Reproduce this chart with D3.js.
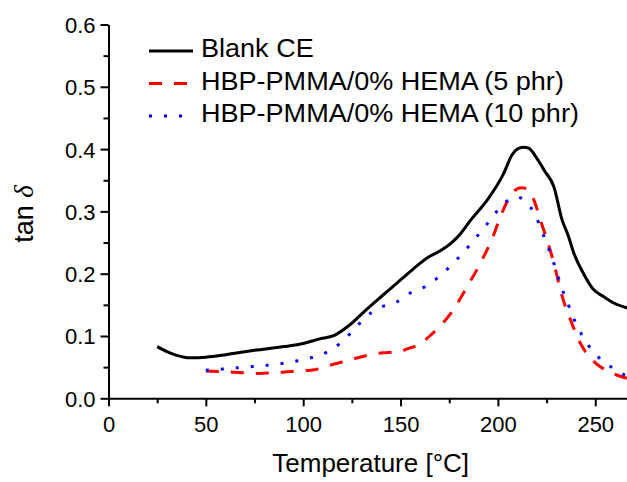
<!DOCTYPE html>
<html>
<head>
<meta charset="utf-8">
<script src="https://d3js.org/d3.v7.min.js"></script>
<style>
body { margin: 0; background: #fff; }
svg text { font-family: "Liberation Sans", Arial, sans-serif; fill: #000; }
</style>
</head>
<body>
<div id="chart"></div>
<script>
(function() {
"use strict"

var W = 627, H = 482;

// tick values
var xMajor = [0, 50, 100, 150, 200, 250];
var xMinor = [25, 75, 125, 175, 225];
var yMajor = [0.0, 0.1, 0.2, 0.3, 0.4, 0.5, 0.6];
var yMinor = [0.05, 0.15, 0.25, 0.35, 0.45, 0.55];

// Blank CE (black solid)
var blankT = [25, 30, 35, 42, 50, 58, 64, 75, 90, 100, 108, 116, 124, 133, 140, 150, 157, 164, 170, 176, 181, 186, 194.5, 203, 207.3, 210, 213, 216, 220, 224, 228.7, 233, 236, 239, 244, 249, 254.4, 259.5, 266.4, 270];
var blankV = [0.083, 0.075, 0.069, 0.065, 0.066, 0.069, 0.072, 0.077, 0.083, 0.088, 0.095, 0.101, 0.118, 0.144, 0.163, 0.190, 0.209, 0.226, 0.236, 0.249, 0.265, 0.286, 0.318, 0.361, 0.391, 0.400, 0.403, 0.401, 0.385, 0.365, 0.340, 0.286, 0.262, 0.233, 0.200, 0.175, 0.163, 0.153, 0.145, 0.142];

// HBP-PMMA/0% HEMA (5 phr) (red dashed)
var p5T = [50, 57, 64, 70, 77, 85, 90, 98, 104, 110, 116, 122, 128, 133, 141, 146, 150, 153, 160, 165, 170, 176, 184, 191, 197, 202, 208, 212, 215, 218, 221, 223, 225.3, 229.6, 232.1, 234.7, 237.3, 240.7, 243.3, 246, 249.3, 253, 257, 261.3, 266.4, 270];
var p5V = [0.044, 0.043, 0.042, 0.041, 0.040, 0.041, 0.042, 0.044, 0.045, 0.049, 0.055, 0.060, 0.065, 0.069, 0.073, 0.074, 0.075, 0.079, 0.087, 0.100, 0.115, 0.137, 0.178, 0.217, 0.256, 0.297, 0.332, 0.338, 0.336, 0.322, 0.295, 0.275, 0.254, 0.206, 0.174, 0.147, 0.126, 0.099, 0.083, 0.070, 0.059, 0.050, 0.043, 0.037, 0.032, 0.029];

// HBP-PMMA/0% HEMA (10 phr) (blue dotted)
var p10T = [50, 58.4, 66, 73.8, 81.5, 89.2, 96.6, 104, 111.5, 119.2, 126, 132.3, 139.7, 147.7, 155, 162.5, 169.6, 176.2, 182.5, 188.5, 194, 200, 206.8, 210, 214.2, 219.3, 222.4, 225.3, 228, 230.4, 232.7, 235.6, 238.5, 241.9, 246.2, 252.3, 259.9, 265.5, 270];
var p10V = [0.045, 0.047, 0.049, 0.051, 0.053, 0.056, 0.060, 0.065, 0.073, 0.089, 0.110, 0.131, 0.146, 0.154, 0.169, 0.179, 0.195, 0.214, 0.235, 0.257, 0.278, 0.302, 0.321, 0.323, 0.316, 0.293, 0.270, 0.246, 0.224, 0.200, 0.178, 0.155, 0.131, 0.109, 0.086, 0.064, 0.047, 0.037, 0.032];

var seriesNames = ["Blank CE", "HBP-PMMA/0% HEMA\u2009(5 phr)", "HBP-PMMA/0% HEMA\u2009(10 phr)"];
var seriesColors = ["#000000", "#ff0000", "#0000ff"];
var seriesDash = [null, "13,12", "3,12"];

var zip = function(ts, vs) {
    return ts.map(function(t, i) { return {t: t, v: vs[i]}; });
};
var series = [zip(blankT, blankV), zip(p5T, p5V), zip(p10T, p10V)];

var margin = {left: 108.5, top: 24.5};
var pxPerUnit = 1.947;

var svg = d3.select("#chart").append("svg")
    .attr("width", W)
    .attr("height", H);

var x = d3.scaleLinear()
    .domain([0, 270])
    .range([margin.left, margin.left + 270 * pxPerUnit]);
var y = d3.scaleLinear()
    .domain([0, 0.6])
    .range([398.3, margin.top]);

//x axis, major + minor ticks
var gx = svg.append("g")
    .attr("transform", "translate(0," + y(0) + ")")
    .call(d3.axisBottom(x).tickValues(xMajor).tickSize(8).tickSizeOuter(0).tickPadding(6).tickFormat(d3.format("d")));
svg.append("g")
    .attr("transform", "translate(0," + y(0) + ")")
    .call(d3.axisBottom(x).tickValues(xMinor).tickSize(5).tickSizeOuter(0).tickFormat(""))
    .select(".domain").remove();

//y axis
var gy = svg.append("g")
    .attr("transform", "translate(" + x(0) + ",0)")
    .call(d3.axisLeft(y).tickValues(yMajor).tickSize(8).tickSizeOuter(0).tickPadding(5).tickFormat(d3.format(".1f")));
svg.append("g")
    .attr("transform", "translate(" + x(0) + ",0)")
    .call(d3.axisLeft(y).tickValues(yMinor).tickSize(5).tickSizeOuter(0).tickFormat(""))
    .select(".domain").remove();

svg.selectAll(".domain, .tick line")
    .attr("stroke", "#000")
    .attr("stroke-width", 2);
svg.selectAll(".tick text")
    .style("font-size", "22px");
gy.selectAll(".tick text").attr("dy", "0.36em");
gx.selectAll(".tick text").attr("dy", "0.9em");

//axis titles
svg.append("text")
    .attr("x", 370.7)
    .attr("y", 471.5)
    .style("text-anchor", "middle")
    .style("font-size", "26px")
    .text("Temperature [\u00b0C]");

var ytitle = svg.append("text")
    .attr("transform", "translate(33,214) rotate(-90)")
    .style("text-anchor", "middle")
    .style("font-size", "27px");
ytitle.append("tspan").text("tan ");
ytitle.append("tspan")
    .style("font-family", "'Liberation Serif', serif")
    .style("font-style", "italic")
    .text("\u03b4");

//curves
var line = d3.line()
    .x(function(d) { return x(d.t); })
    .y(function(d) { return y(d.v); })
    .curve(d3.curveMonotoneX);

svg.append("g").selectAll("path")
    .data(series)
    .enter().append("path")
    .attr("d", line)
    .attr("fill", "none")
    .attr("stroke", function(d, i) { return seriesColors[i]; })
    .attr("stroke-width", 3)
    .attr("stroke-dasharray", function(d, i) { return seriesDash[i]; })
    .attr("stroke-linejoin", "round");

//legend
var legend = svg.append("g");
var rowY = [51, 83.5, 116];
seriesNames.forEach(function(name, i) {
    legend.append("line")
        .attr("x1", 149).attr("x2", 193)
        .attr("y1", rowY[i]).attr("y2", rowY[i])
        .attr("stroke", seriesColors[i])
        .attr("stroke-width", 3)
        .attr("stroke-dasharray", seriesDash[i]);
    // text is a touch wider than plain Arial in the original
    legend.append("text")
        .attr("transform", "translate(201," + (rowY[i] + 6) + ") scale(1.04,1)")
        .style("font-size", "26px")
        .text(name);
});

})();
</script>
</body>
</html>
